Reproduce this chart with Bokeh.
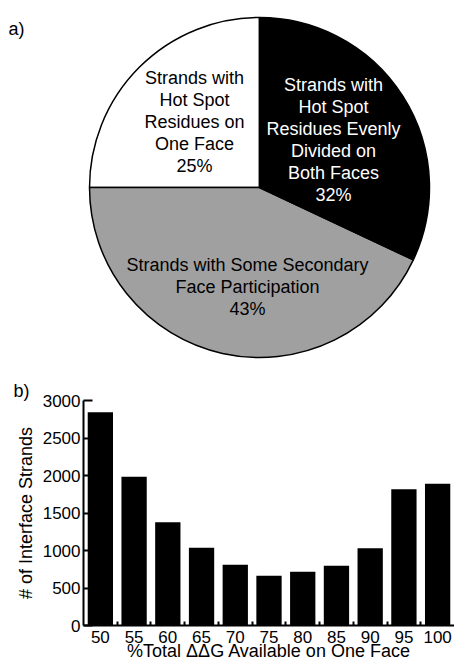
import math
from bokeh.plotting import figure
from bokeh.models import Range1d, FixedTicker, ColumnDataSource
from bokeh.layouts import column
from bokeh.embed import file_html
from bokeh.resources import INLINE
from bokeh.core.properties import value

FONT = "Liberation Sans"

# ---------------- data ----------------
pie_names = [
    "Strands with\nHot Spot\nResidues on\nOne Face",
    "Strands with Some Secondary\nFace Participation",
    "Strands with\nHot Spot\nResidues Evenly\nDivided on\nBoth Faces",
]
pie_shares = [25, 43, 32]
pie_colors = ["#ffffff", "#a0a0a0", "#000000"]
pie_text_colors = ["#000000", "#000000", "#ffffff"]

bar_categories = [50, 55, 60, 65, 70, 75, 80, 85, 90, 95, 100]
bar_values = [2845, 1985, 1378, 1036, 809, 662, 716, 796, 1031, 1818, 1889]
y_ticks = [0, 500, 1000, 1500, 2000, 2500, 3000]

# ---------------- layout constants ----------------
W = 454
H1 = 370
H2 = 663 - H1
LEFT = 83
CX, CY, R = 259, 183, 170
label_offsets = [(-65, 66), (-12, -99.5), (74, 47.5)]
PANEL_A_Y = H1 - 28

# ---------------- pie ----------------
total = float(sum(pie_shares))
starts, ends = [], []
a = math.pi / 2
for s in pie_shares:
    starts.append(a)
    a += 2 * math.pi * s / total
    ends.append(a)

pie_src = ColumnDataSource(dict(
    start=starts, end=ends, color=pie_colors,
    x=[CX] * len(pie_shares), y=[CY] * len(pie_shares),
    tx=[CX + dx for dx, dy in label_offsets],
    ty=[CY + dy for dx, dy in label_offsets],
    label=[f"{n}\n{s}%" for n, s in zip(pie_names, pie_shares)],
    tcolor=pie_text_colors,
))

p1 = figure(width=W, height=H1, x_range=Range1d(LEFT, W), y_range=Range1d(0, H1),
            output_backend="svg", toolbar_location=None, min_border=0, min_border_left=LEFT,
            x_axis_location=None, y_axis_location="left", outline_line_color=None)
p1.grid.visible = False
p1.wedge(x="x", y="y", radius=R, start_angle="start", end_angle="end",
         fill_color="color", line_color="black", line_width=1.5, source=pie_src)
p1.text(x="tx", y="ty", text="label", text_color="tcolor", source=pie_src,
        text_font=value(FONT), text_font_size="18px", text_align="center",
        text_baseline="middle", text_line_height=1.1)

# panel letter "a)" drawn as the single tick label of an invisible left axis
pa = p1.yaxis[0]
pa.ticker = FixedTicker(ticks=[PANEL_A_Y])
pa.major_label_overrides = {PANEL_A_Y: "a)"}
pa.axis_line_color = None
pa.major_tick_line_color = None
pa.minor_tick_line_color = None
pa.major_label_standoff = LEFT - 30
pa.major_label_text_font = FONT
pa.major_label_text_font_size = "18px"
pa.major_label_text_color = "black"

# ---------------- bars ----------------
step = bar_categories[1] - bar_categories[0]
x0, x1 = bar_categories[0] - step / 2, bar_categories[-1] + step / 2
y0, y1 = y_ticks[0], y_ticks[-1]
p2 = figure(width=W, height=H2, x_range=Range1d(x0, x1), y_range=Range1d(y0, y1),
            output_backend="svg", toolbar_location=None,
            min_border_left=LEFT, min_border_right=0, min_border_top=30, min_border_bottom=38,
            outline_line_color=None, title="b)")
p2.grid.visible = False
p2.vbar(x=bar_categories, top=bar_values, width=step * 0.75,
        fill_color="black", line_color=None)

p2.title.align = "left"
p2.title.offset = -70
p2.title.standoff = 0
p2.title.text_font = FONT
p2.title.text_font_size = "18px"
p2.title.text_font_style = "normal"
p2.title.text_color = "black"

xa = p2.xaxis[0]
xa.ticker = FixedTicker(ticks=bar_categories,
                        minor_ticks=[(a + b) / 2 for a, b in zip(bar_categories, bar_categories[1:])])
xa.major_tick_line_color = None
xa.minor_tick_in = 4
xa.minor_tick_out = 0
xa.minor_tick_line_width = 2
xa.axis_line_width = 2
xa.major_label_standoff = -1
xa.major_label_text_font = FONT
xa.major_label_text_font_size = "17px"
xa.major_label_text_color = "black"
xa.axis_label = "%Total \u0394\u0394G Available on One Face"
xa.axis_label_text_font = FONT
xa.axis_label_text_font_size = "18px"
xa.axis_label_text_font_style = "normal"
xa.axis_label_text_color = "black"
xa.axis_label_standoff = -5

ya = p2.yaxis[0]
ya.ticker = FixedTicker(ticks=y_ticks)
ya.major_tick_in = 9
ya.major_tick_out = 0
ya.major_tick_line_width = 2
ya.minor_tick_line_color = None
ya.axis_line_width = 2
ya.major_label_standoff = 3
ya.major_label_text_font = FONT
ya.major_label_text_font_size = "17px"
ya.major_label_text_color = "black"
ya.axis_label = "# of Interface Strands"
ya.axis_label_text_font = FONT
ya.axis_label_text_font_size = "18px"
ya.axis_label_text_font_style = "normal"
ya.axis_label_text_color = "black"
ya.axis_label_standoff = 4

layout = column(p1, p2, spacing=0)
open("out.html", "w").write(file_html(layout, INLINE))
